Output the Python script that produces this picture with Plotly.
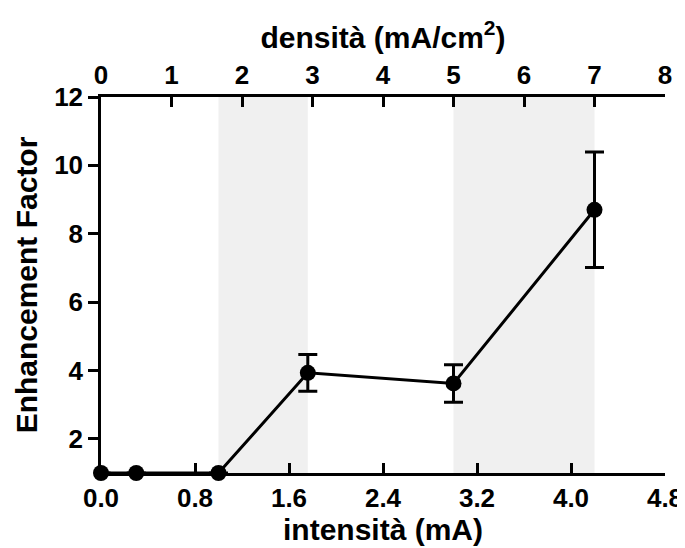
import plotly.graph_objects as go

# Data
intensity = [0.0, 0.3, 1.0, 1.76, 3.0, 4.2]          # mA
enhancement = [1.0, 1.0, 1.0, 3.93, 3.62, 8.70]
err = [0.0, 0.0, 0.0, 0.54, 0.55, 1.69]
shade_ranges = [(1.0, 1.76), (3.0, 4.2)]                # intensity ranges shaded

x_ticks = [0.0, 0.8, 1.6, 2.4, 3.2, 4.0, 4.8]
x_ticktext = ["0.0", "0.8", "1.6", "2.4", "3.2", "4.0", "4.8"]
top_ticks = [0, 1, 2, 3, 4, 5, 6, 7, 8]
y_ticks = [2, 4, 6, 8, 10, 12]

FONT = "Liberation Sans"
tickfont = dict(family=FONT, size=26, color="black", weight="bold")
titlefont = dict(family=FONT, size=30, color="black", weight="bold")

fig = go.Figure()

fig.add_trace(go.Scatter(
    x=intensity, y=enhancement,
    mode="lines+markers",
    line=dict(color="black", width=3),
    marker=dict(color="black", size=16),
    error_y=dict(type="data", array=err, visible=True, color="black",
                 thickness=3, width=9.5),
    showlegend=False, cliponaxis=False,
))
# invisible trace to activate the top axis
fig.add_trace(go.Scatter(x=[0, 8], y=[1, 1], xaxis="x2", mode="markers",
                         marker=dict(opacity=0), showlegend=False, hoverinfo="skip"))

for a, b in shade_ranges:
    fig.add_shape(type="rect", xref="x", yref="y", x0=a, x1=b, y0=1, y1=12,
                  fillcolor="#f0f0f0", line=dict(width=0), layer="below")

# the page body has an 8px default margin, so the figure is 8px smaller
fig.update_layout(
    width=677, height=540,
    margin=dict(l=93, r=20, t=89, b=75),
    plot_bgcolor="white", paper_bgcolor="white",
    xaxis=dict(
        range=[0, 4.8], tickvals=x_ticks, ticktext=x_ticktext,
        ticks="inside", ticklen=10, tickwidth=2.5, tickcolor="black",
        showline=True, linecolor="black", linewidth=2.5, automargin=False,
        showgrid=False, zeroline=False, tickfont=tickfont,
        title=dict(text="intensità (mA)", font=titlefont, standoff=3),
    ),
    xaxis2=dict(
        range=[0, 8], overlaying="x", side="top", tickvals=top_ticks,
        ticks="inside", ticklen=10, tickwidth=2.5, tickcolor="black",
        showline=True, linecolor="black", linewidth=2.5, automargin=False,
        showgrid=False, zeroline=False, tickfont=tickfont,
        title=dict(text="densità (mA/cm<sup>2</sup>)", font=titlefont, standoff=3),
    ),
    yaxis=dict(
        range=[1, 12], tickvals=y_ticks,
        ticks="outside", ticklen=10, tickwidth=2.5, tickcolor="black",
        showline=True, linecolor="black", linewidth=2.5, automargin=False,
        showgrid=False, zeroline=False, tickfont=tickfont, ticklabelstandoff=0,
        title=dict(text="Enhancement Factor", font=titlefont, standoff=8),
    ),
)

fig.write_html("out.html")
